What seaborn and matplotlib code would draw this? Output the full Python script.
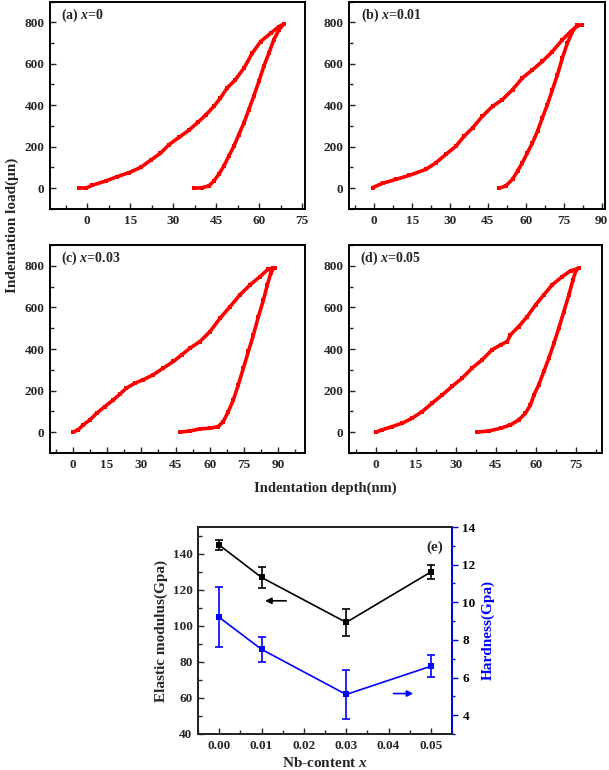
import matplotlib
matplotlib.use("Agg")
import matplotlib.pyplot as plt
from matplotlib.ticker import MultipleLocator
import numpy as np
import pandas as pd
import seaborn as sns

# ---- indentation curves (depth nm, load uN) ----
a_load_depth = [-2.9, -0.6, 1.7, 6.4, 10.5, 14.5, 18.6, 22.1, 25.5, 28.5, 32.0, 35.5,
                38.8, 41.5, 44.2, 46.5, 48.8, 51.7, 54.7, 57.6, 60.5, 64.0, 66.9, 68.6]
a_load_load = [3, 0, 14, 35, 56, 75, 100, 135, 168, 210, 245, 280,
               320, 355, 395, 435, 483, 523, 579, 651, 707, 747, 779, 792]
a_unl_depth = [37.2, 40.1, 42.4, 44.2, 45.9, 47.7, 49.4, 51.2, 52.9, 54.7, 56.4, 58.1,
               59.9, 61.6, 63.4, 65.1, 66.9, 68.6]
a_unl_load = [0, 3, 11, 35, 67, 107, 155, 203, 259, 315, 379, 443,
              515, 587, 651, 715, 763, 792]

b_load_depth = [-0.7, 3.3, 8.6, 13.8, 20.4, 24.4, 28.3, 32.3, 35.6, 38.9, 42.8, 46.8,
                50.7, 54.7, 58.6, 62.6, 66.5, 70.5, 74.4, 77.7, 80.4, 82.3]
b_load_load = [3, 24, 43, 62, 91, 123, 163, 203, 251, 291, 347, 395,
               427, 475, 531, 571, 611, 659, 715, 755, 784, 787]
b_unl_depth = [49.4, 52.0, 54.7, 56.7, 58.6, 60.6, 62.6, 64.6, 66.5, 68.5, 70.5, 72.5,
               74.4, 76.4, 78.4, 80.4]
b_unl_load = [0, 11, 43, 83, 123, 171, 219, 275, 339, 403, 475, 547,
              627, 699, 755, 787]

c_load_depth = [0.0, 2.3, 4.5, 7.5, 10.4, 14.0, 17.7, 20.6, 23.5, 27.2, 30.8, 35.2,
                39.6, 44.0, 47.7, 51.3, 55.7, 60.1, 64.5, 68.9, 73.2, 77.6, 82.0, 85.7, 88.6]
c_load_load = [0, 11, 35, 59, 91, 123, 155, 183, 212, 236, 252, 276,
               308, 340, 372, 404, 436, 484, 548, 604, 660, 708, 748, 785, 788]
c_unl_depth = [46.9, 51.3, 55.7, 60.1, 63.7, 65.9, 68.1, 70.3, 72.5, 74.7, 76.9, 79.1,
               81.3, 83.5, 85.2, 86.7, 87.9]
c_unl_load = [0, 6, 16, 19, 27, 51, 99, 155, 228, 308, 388, 468,
              556, 636, 708, 764, 788]

d_load_depth = [0.0, 2.4, 6.1, 9.9, 13.6, 17.4, 21.1, 24.9, 28.6, 32.4, 36.1, 39.9,
                43.6, 46.8, 49.3, 50.5, 53.6, 56.8, 59.9, 63.0, 66.1, 69.9, 73.0, 76.1]
d_load_load = [0, 11, 27, 43, 67, 99, 139, 179, 220, 260, 308, 348,
               396, 420, 436, 468, 508, 556, 612, 660, 708, 748, 776, 788]
d_unl_depth = [38.0, 42.4, 46.8, 50.5, 53.6, 56.1, 58.0, 59.3, 61.1, 63.0, 64.9, 66.8,
               68.6, 70.5, 72.4, 73.9, 75.1, 76.1]
d_unl_load = [0, 6, 19, 35, 59, 91, 131, 179, 228, 292, 356, 428,
              500, 580, 660, 732, 780, 788]

# ---- panel (e) ----
nb_content = [0.00, 0.01, 0.03, 0.05]
modulus = [145, 127, 102, 130]
modulus_err = [3, 6, 7.5, 4]
hardness = [9.2, 7.5, 5.1, 6.6]
hardness_err = [1.6, 0.67, 1.3, 0.58]

sns.set_style("ticks")
plt.rcParams["font.family"] = ["Liberation Serif", "DejaVu Serif"]
plt.rcParams["font.weight"] = "bold"
plt.rcParams["axes.labelweight"] = "bold"
plt.rcParams["mathtext.fontset"] = "custom"
plt.rcParams["mathtext.rm"] = "Liberation Serif:bold"
plt.rcParams["mathtext.it"] = "Liberation Serif:italic:bold"

fig = plt.figure(figsize=(6.09, 7.70), dpi=100)
W, H = 609, 770
TICK_FS = 9.5


def box(l, t, r, b):
    return [l / W, 1 - b / H, (r - l) / W, (b - t) / H]


def style_axes(ax):
    for s in ax.spines.values():
        s.set_linewidth(1.4)
        s.set_color("black")
    ax.tick_params(which="both", direction="in", width=1.0, labelsize=TICK_FS,
                   top=False, right=False, pad=4)
    ax.tick_params(which="major", length=4)
    ax.tick_params(which="minor", length=3)
    for lab in ax.get_xticklabels() + ax.get_yticklabels():
        lab.set_fontweight("bold")


panels = [
    ("(a) $x$=0", box(50, 1.5, 305, 209), (-13, 76),
     a_load_depth, a_load_load, a_unl_depth, a_unl_load, [0, 15, 30, 45, 60, 75]),
    ("(b) $x$=0.01", box(349, 1.5, 605, 209), (-10, 91.3),
     b_load_depth, b_load_load, b_unl_depth, b_unl_load, [0, 15, 30, 45, 60, 75, 90]),
    ("(c) $x$=0.03", box(50, 245, 305, 453), (-10, 101.7),
     c_load_depth, c_load_load, c_unl_depth, c_unl_load, [0, 15, 30, 45, 60, 75, 90]),
    ("(d) $x$=0.05", box(349, 245, 602, 453), (-10, 84.8),
     d_load_depth, d_load_load, d_unl_depth, d_unl_load, [0, 15, 30, 45, 60, 75]),
]

for label, rect, xlim, ld, ll, ud, ul, xt in panels:
    ax = fig.add_axes(rect)
    df = pd.concat([
        pd.DataFrame({"depth": ld, "load": ll, "branch": "loading"}),
        pd.DataFrame({"depth": ud, "load": ul, "branch": "unloading"}),
    ])
    sns.lineplot(data=df, x="depth", y="load", units="branch", estimator=None,
                 sort=False, color="#ff0000", lw=2.6, marker="s", markersize=2.8,
                 markeredgewidth=0, ax=ax)
    ax.set_xlim(*xlim)
    ax.set_ylim(-100, 900)
    ax.set_xticks(xt)
    ax.set_yticks([0, 200, 400, 600, 800])
    ax.xaxis.set_minor_locator(MultipleLocator(7.5))
    ax.yaxis.set_minor_locator(MultipleLocator(100))
    ax.set_xlabel("")
    ax.set_ylabel("")
    style_axes(ax)
    ax.text(0.045, 0.935, label, transform=ax.transAxes, fontsize=10,
            fontweight="bold", va="center", ha="left")

fig.text(12 / W, 1 - 225 / H, "Indentation load(\u03bcn)", rotation=90,
         ha="center", va="center", fontsize=11, fontweight="bold")
fig.text(325 / W, 1 - 488 / H, "Indentation depth(nm)", ha="center",
         va="center", fontsize=10.5, fontweight="bold")

# ---- panel (e) ----
axe = fig.add_axes(box(198, 527, 452, 734))
sns.lineplot(x=nb_content, y=modulus, color="black", lw=1.2, marker="s",
             markersize=4, markeredgewidth=0, ax=axe)
axe.errorbar(nb_content, modulus, yerr=modulus_err, fmt="none", ecolor="black",
             elinewidth=1.2, capsize=3, capthick=1.2)
axe.set_xlim(-0.005, 0.055)
axe.set_ylim(40, 155)
axe.set_xticks([0.00, 0.01, 0.02, 0.03, 0.04, 0.05])
axe.set_xticklabels(["0.00", "0.01", "0.02", "0.03", "0.04", "0.05"])
axe.xaxis.set_minor_locator(MultipleLocator(0.005))
axe.set_yticks([40, 60, 80, 100, 120, 140])
axe.yaxis.set_minor_locator(MultipleLocator(10))
style_axes(axe)
axe.set_ylabel("Elastic modulus(Gpa)", fontsize=11, fontweight="bold", labelpad=3)
axe.set_xlabel("Nb-content $x$", fontsize=11, fontweight="bold", labelpad=3)
axe.text(0.965, 0.9, "(e)", transform=axe.transAxes, ha="right", va="center",
         fontsize=11, fontweight="bold")
axe.annotate("", xy=(0.0102, 114), xytext=(0.0165, 114),
             arrowprops=dict(arrowstyle="-|>", color="black", lw=1.2,
                             mutation_scale=9))

axh = axe.twinx()
sns.lineplot(x=nb_content, y=hardness, color="#0000ff", lw=1.2, marker="s",
             markersize=4, markeredgewidth=0, ax=axh)
axh.errorbar(nb_content, hardness, yerr=hardness_err, fmt="none", ecolor="#0000ff",
             elinewidth=1.2, capsize=3, capthick=1.2)
axh.set_ylim(3, 14)
axh.set_yticks([4, 6, 8, 10, 12, 14])
axh.yaxis.set_minor_locator(MultipleLocator(1))
for s in axh.spines.values():
    s.set_linewidth(1.4)
axh.spines["right"].set_color("#0000ff")
axh.tick_params(axis="y", which="both", direction="out", colors="#0000ff",
                labelcolor="black", labelsize=TICK_FS, width=1.0)
axh.tick_params(axis="y", which="major", length=4)
axh.tick_params(axis="y", which="minor", length=2.5)
for lab in axh.get_yticklabels():
    lab.set_fontweight("bold")
axh.set_ylabel("Hardness(Gpa)", color="#0000ff", fontsize=11, fontweight="bold",
               labelpad=4)
axh.annotate("", xy=(0.0465, 5.15), xytext=(0.0405, 5.15),
             arrowprops=dict(arrowstyle="-|>", color="#0000ff", lw=1.2,
                             mutation_scale=9))

fig.savefig("out.png", dpi=100)
